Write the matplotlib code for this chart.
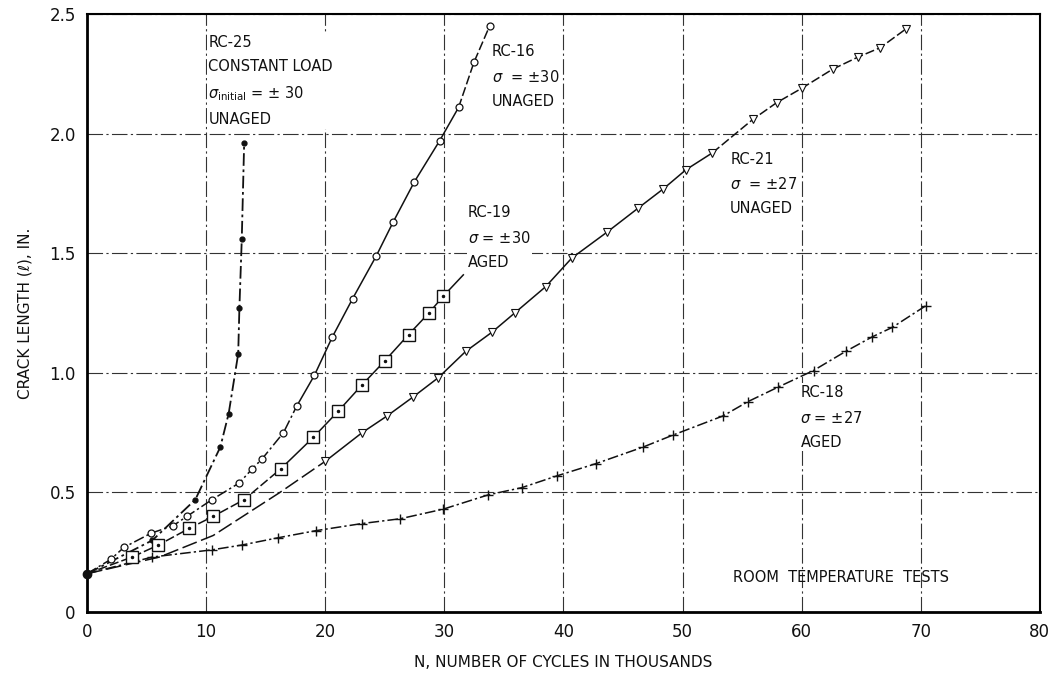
import numpy as np
import matplotlib
matplotlib.use("Agg")
import matplotlib.pyplot as plt

# common starting point of all tests
start_n = [0.0]
start_len = [0.16]

# RC-25 constant load
rc25_n = [0.0, 5.5, 9.1, 11.2, 11.9, 12.7, 12.8, 13.0, 13.2]
rc25_len = [0.16, 0.30, 0.47, 0.69, 0.83, 1.08, 1.27, 1.56, 1.96]

# RC-16 unaged +-30
rc16_n = [0.0, 2.0, 3.1, 5.4, 7.2, 8.4, 10.5, 12.8, 13.9, 14.7, 16.5, 17.6, 19.1,
          20.6, 22.3, 24.3, 25.7, 27.5, 29.6, 31.2, 32.5, 33.8]
rc16_len = [0.16, 0.22, 0.27, 0.33, 0.36, 0.40, 0.47, 0.54, 0.60, 0.64, 0.75, 0.86, 0.99,
            1.15, 1.31, 1.49, 1.63, 1.80, 1.97, 2.11, 2.30, 2.45]

# RC-19 aged +-30 (line runs on past the last square)
rc19_n = [0.0, 3.8, 6.0, 8.6, 10.6, 13.2, 16.3, 19.0, 21.1, 23.1, 25.0, 27.0, 28.7, 29.9, 31.6]
rc19_len = [0.16, 0.23, 0.28, 0.35, 0.40, 0.47, 0.60, 0.73, 0.84, 0.95, 1.05, 1.16, 1.25, 1.32, 1.41]

# RC-21 unaged +-27 (markers start at 20)
rc21_n = [0.0, 6.1, 10.6, 13.4, 16.2, 20.0, 23.1, 25.2, 27.4, 29.5, 31.8, 34.0, 35.9, 38.5,
          40.7, 43.7, 46.3, 48.4, 50.3, 52.5, 55.9, 57.9, 60.0, 62.6, 64.7, 66.6, 68.8]
rc21_len = [0.16, 0.23, 0.32, 0.41, 0.50, 0.63, 0.75, 0.82, 0.90, 0.98, 1.09, 1.17, 1.25, 1.36,
            1.48, 1.59, 1.69, 1.77, 1.85, 1.92, 2.06, 2.13, 2.19, 2.27, 2.32, 2.36, 2.44]

# RC-18 aged +-27
rc18_n = [0.0, 5.5, 10.5, 13.0, 16.0, 19.2, 23.1, 26.3, 29.9, 33.7, 36.5, 39.5, 42.7, 46.7,
          49.2, 53.4, 55.5, 58.0, 61.0, 63.7, 65.9, 67.6, 70.4]
rc18_len = [0.16, 0.23, 0.26, 0.28, 0.31, 0.34, 0.37, 0.39, 0.43, 0.49, 0.52, 0.57, 0.62, 0.69,
            0.74, 0.82, 0.88, 0.94, 1.01, 1.09, 1.15, 1.19, 1.28]

x_ticks = [0, 10, 20, 30, 40, 50, 60, 70, 80]
y_ticks = [0, 0.5, 1.0, 1.5, 2.0, 2.5]
y_tick_labels = ["0", "0.5", "1.0", "1.5", "2.0", "2.5"]

fig = plt.figure(figsize=(10.6, 6.77), dpi=100)
ax = fig.add_axes([0.082, 0.096, 0.899, 0.883])
ax.set_axisbelow(True)

ink = "#111111"
dashdot = (0, (7, 2, 1.5, 2))
longdash = (0, (10, 3))
shortdash = (0, (6, 2))


def piece(xs, ys, a, b, ls):
    # draw one stretch of a curve in its own line style
    ax.plot(xs[a:b], ys[a:b], ls=ls, color=ink, lw=1.1, zorder=3)


# RC-25
ax.plot(rc25_n, rc25_len, ls=dashdot, color=ink, lw=1.3, zorder=3)
ax.plot(rc25_n[1:], rc25_len[1:], "o", ms=3.5, color=ink, zorder=4)

# RC-16
piece(rc16_n, rc16_len, 0, 12, dashdot)
piece(rc16_n, rc16_len, 11, 20, "-")
piece(rc16_n, rc16_len, 19, None, shortdash)
ax.plot(rc16_n[1:], rc16_len[1:], "o", ms=5, mfc="white", mec=ink, mew=0.9, zorder=4)

# RC-19
piece(rc19_n, rc19_len, 0, 7, shortdash)
piece(rc19_n, rc19_len, 6, None, "-")
ax.plot(rc19_n[1:-1], rc19_len[1:-1], "s", ms=9, mfc="white", mec=ink, mew=1.0, zorder=4)
ax.plot(rc19_n[1:-1], rc19_len[1:-1], ".", ms=3, color=ink, zorder=5)

# RC-21
piece(rc21_n, rc21_len, 0, 6, longdash)
piece(rc21_n, rc21_len, 5, 20, "-")
piece(rc21_n, rc21_len, 19, None, shortdash)
ax.plot(rc21_n[5:], rc21_len[5:], "v", ms=6, mfc="white", mec=ink, mew=0.8, zorder=4)

# RC-18
piece(rc18_n, rc18_len, 0, None, dashdot)
ax.plot(rc18_n[1:], rc18_len[1:], "+", ms=7, mew=1.0, color=ink, zorder=4)

ax.plot(start_n, start_len, "o", color=ink, ms=6, clip_on=False, zorder=6)

ax.set_xlim(0, 80)
ax.set_ylim(0, 2.5)
ax.set_xticks(x_ticks)
ax.set_yticks(y_ticks)
ax.set_yticklabels(y_tick_labels)
ax.tick_params(length=0, labelsize=12, pad=8, colors=ink)
ax.grid(True, ls=(0, (14, 3, 2, 3)), lw=0.8, color="#333333")
for side in ["left", "bottom"]:
    ax.spines[side].set_linewidth(2.0)
for side in ["top", "right"]:
    ax.spines[side].set_linewidth(1.5)

ax.set_xlabel("N, NUMBER OF CYCLES IN THOUSANDS", fontsize=11, labelpad=10, color=ink)
ax.set_ylabel("CRACK LENGTH (ℓ), IN.", fontsize=11, labelpad=12, color=ink)

fs = 10.5
txt = dict(fontsize=fs, color=ink, va="center", ha="left", linespacing=1.75, zorder=1,
           bbox=dict(fc="white", ec="none", pad=1))
ax.text(10.2, 2.22, "RC-25\nCONSTANT LOAD\n$\\sigma_{\\rm initial}$ = $\\pm$ 30\nUNAGED", **txt)
ax.text(34.0, 2.24, "RC-16\n$\\sigma$  = $\\pm$30\nUNAGED", **txt)
ax.text(32.0, 1.565, "RC-19\n$\\sigma$ = $\\pm$30\nAGED", **txt)
ax.text(54.0, 1.79, "RC-21\n$\\sigma$  = $\\pm$27\nUNAGED", **txt)
ax.text(59.9, 0.815, "RC-18\n$\\sigma$ = $\\pm$27\nAGED", **txt)
ax.text(54.2, 0.146, "ROOM  TEMPERATURE  TESTS", fontsize=fs, color=ink, va="center", ha="left")

fig.savefig("out.png", dpi=100)
